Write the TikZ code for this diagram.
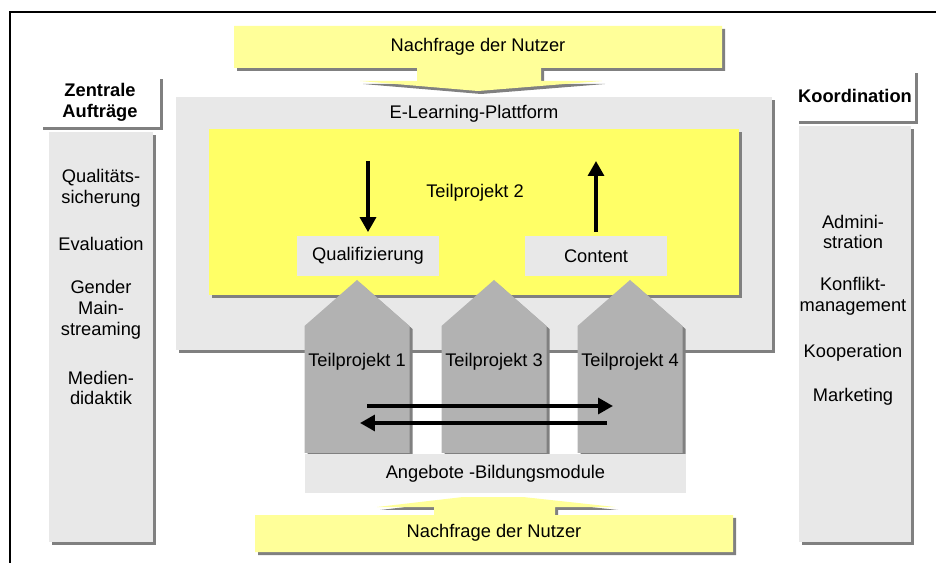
\documentclass[tikz,border=0pt]{standalone}
\usepackage{fontspec}
\setmainfont{Liberation Sans}
\usetikzlibrary{arrows.meta,shadows}

\definecolor{panelgray}{HTML}{E8E8E8}
\definecolor{callyellow}{HTML}{FFFF99}
\definecolor{tpyellow}{HTML}{FFFF66}
\definecolor{towergray}{HTML}{B2B2B2}

\tikzset{
  boxshadow/.style={drop shadow={shadow xshift=0.06cm, shadow yshift=-0.06cm, fill=black!50, opacity=1}},
  panel/.style={fill=panelgray, inner sep=0pt},
  headbox/.style={fill=white, boxshadow, inner sep=0pt, align=center, font=\fontsize{10.4}{11.9}\selectfont\bfseries},
  item/.style={align=center, inner sep=0pt},
  flow/.style={line width=2pt, -{Triangle[length=8.5pt,width=9pt]}}
}

\begin{document}
\begin{tikzpicture}[x=0.02cm, y=-0.02cm, every node/.append style={font=\fontsize{10.4}{11.9}\selectfont}]

      \useasboundingbox (0,0) rectangle (936,563);

      % frame
      \draw[line width=0.9pt] (10,563) -- (10,12) -- (936,12);

      % demand callouts
      \fill[callyellow, boxshadow] (234,26) -- (722,26) -- (722,68) -- (541,68) -- (541,81) -- (602,81)
        -- (478,91) -- (360,81) -- (417,81) -- (417,68) -- (234,68) -- cycle;
      \node (demandtop) at (478,47) {Nachfrage der Nutzer};

      \fill[callyellow, boxshadow] (255,515) -- (434,515) -- (434,507) -- (377,507) -- (463,497) -- (523,497)
        -- (615,507) -- (555,507) -- (555,515) -- (733,515) -- (733,552) -- (255,552) -- cycle;
      \node (demandbot) at (494,533) {Nachfrage der Nutzer};

      % side columns
      \node[headbox, minimum width=119*0.02cm, minimum height=51*0.02cm] (central) at (100,102) {Zentrale\\Aufträge};
      \node[panel, boxshadow, minimum width=104*0.02cm, minimum height=410*0.02cm] (leftcol) at (101,337) {};
      \node[item] (quality) at (101,188.5) {Qualitäts-\\sicherung};
      \node[item] (evaluation) at (101,244) {Evaluation};
      \node[item] (gender) at (101,310) {Gender\\Main-\\streaming};
      \node[item] (media) at (101,388) {Medien-\\didaktik};

      \node[headbox, minimum width=119*0.02cm, minimum height=51*0.02cm] (coord) at (855,96) {Koordination};
      \node[panel, boxshadow, minimum width=112*0.02cm, minimum height=416*0.02cm] (rightcol) at (855,334) {};
      \node[item] (admin) at (853,232) {Admini-\\stration};
      \node[item] (conflict) at (853,296.5) {Konflikt-\\management};
      \node[item] (coop) at (853,353) {Kooperation};
      \node[item] (marketing) at (853,397) {Marketing};

      % platform
      \node[panel, boxshadow, minimum width=596*0.02cm, minimum height=253*0.02cm] (platform) at (474,223.5) {};
      \node (platlabel) at (474,114) {E-Learning-Plattform};
      \node[fill=tpyellow, boxshadow, inner sep=0pt, minimum width=530*0.02cm, minimum height=166*0.02cm] (tptwo) at (474,212) {};
      \node (tptwolabel) at (475,193) {Teilprojekt 2};
      \node[panel, minimum width=142*0.02cm, minimum height=40*0.02cm] (quali) at (368,256) {Qualifizierung};
      \node[panel, minimum width=142*0.02cm, minimum height=40*0.02cm] (content) at (596,256) {Content};

      % sub-projects
      \foreach \n/\x in {1/357, 3/494, 4/630} {
          \fill[towergray, boxshadow] ({\x-52.5},453) -- ({\x-52.5},326) -- (\x,280) -- ({\x+52.5},326) -- ({\x+52.5},453) -- cycle;
          \node (tp\n) at (\x,362) {Teilprojekt \n};
        }
      \node[panel, minimum width=381*0.02cm, minimum height=39*0.02cm] (offers) at (495.5,473.5) {Angebote -Bildungsmodule};

      % arrows
      \coordinate (qin) at (368,161);
      \coordinate (cout) at (596,161);
      \draw[flow, shorten >=2pt] (qin) -- (quali.north);
      \draw[flow, shorten <=2pt] (content.north) -- (cout);

      \coordinate (exA) at (367,406);
      \coordinate (exB) at (613,406);
      \coordinate (exC) at (607,423);
      \coordinate (exD) at (360,423);
      \draw[flow] (exA) -- (exB);
      \draw[flow] (exC) -- (exD);

    \end{tikzpicture}
\end{document}
